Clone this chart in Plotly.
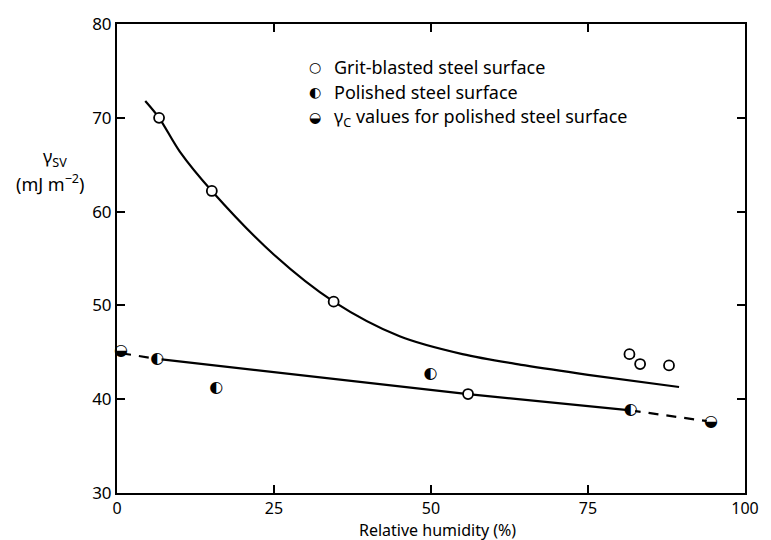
import plotly.graph_objects as go

# Grit-blasted steel surface (open circles)
grit_x = [6.7, 15.1, 34.5, 55.9, 81.6, 83.3, 87.9]
grit_y = [70.0, 62.2, 50.4, 40.55, 44.8, 43.75, 43.6]

# Polished steel surface (left half filled)
pol_x = [6.4, 15.8, 49.9, 81.8]
pol_y = [44.3, 41.2, 42.7, 38.8]

# gamma_c values for polished steel surface (bottom half filled)
gc_x = [0.65, 94.6]
gc_y = [45.1, 37.6]

# Fitted curve through grit-blasted data
curve_x = [4.5, 6.7, 10.0, 15.1, 25.0, 34.5, 45.0, 55.0, 65.0, 75.0, 89.5]
curve_y = [71.8, 70.0, 66.4, 62.2, 55.4, 50.4, 46.7, 44.8, 43.6, 42.6, 41.3]

# Line through polished data
line_solid_x = [6.4, 55.9, 81.8]
line_solid_y = [44.3, 40.55, 38.8]
line_dash_left_x = [0.65, 6.4]
line_dash_left_y = [44.9, 44.3]
line_dash_right_x = [81.8, 94.6]
line_dash_right_y = [38.8, 37.6]

x_ticks = [0, 25, 50, 75, 100]
y_ticks = [30, 40, 50, 60, 70, 80]

FONT = "Noto Sans"
SYM = "DejaVu Sans"

TOP, BOT = 21, 47
PH = 540 - TOP - BOT

fig = go.Figure()
fig.add_trace(go.Scatter(x=curve_x, y=curve_y, mode="lines",
                         line=dict(color="black", width=2.2, shape="spline", smoothing=0.9),
                         showlegend=False, hoverinfo="skip"))
fig.add_trace(go.Scatter(x=line_solid_x, y=line_solid_y, mode="lines",
                         line=dict(color="black", width=2.2),
                         showlegend=False, hoverinfo="skip"))
for lx, ly in [(line_dash_left_x, line_dash_left_y), (line_dash_right_x, line_dash_right_y)]:
    fig.add_trace(go.Scatter(x=lx, y=ly, mode="lines",
                             line=dict(color="black", width=2.2, dash="10px,8px"),
                             showlegend=False, hoverinfo="skip"))

fig.add_trace(go.Scatter(x=grit_x, y=grit_y, mode="markers",
                         marker=dict(symbol="circle", size=10, color="white",
                                     line=dict(color="black", width=1.8)),
                         name="Grit-blasted steel surface", showlegend=False))
fig.add_trace(go.Scatter(x=pol_x, y=pol_y, mode="markers+text", text=["◐"] * len(pol_x),
                         textposition="middle center",
                         marker=dict(symbol="circle", size=9, color="white"),
                         textfont=dict(family=SYM, size=16, color="black"),
                         name="Polished steel surface", showlegend=False))
fig.add_trace(go.Scatter(x=gc_x, y=gc_y, mode="markers+text", text=["◒"] * len(gc_x),
                         textposition="middle center",
                         marker=dict(symbol="circle", size=9, color="white"),
                         textfont=dict(family=SYM, size=16, color="black"),
                         name="γc values", showlegend=False, cliponaxis=False))

axis_common = dict(showline=True, linecolor="black", linewidth=2, mirror="ticks",
                   ticks="inside", ticklen=8, tickwidth=1.5, tickcolor="black",
                   showgrid=False, zeroline=False,
                   tickfont=dict(family=FONT, size=17, color="black"))
fig.update_xaxes(range=[0, 100], tickvals=x_ticks, ticktext=[str(v) for v in x_ticks],
                 **axis_common)
fig.update_xaxes(tickfont=dict(family=FONT, size=16, color="black"))
fig.update_yaxes(range=[30, 80], tickvals=y_ticks, ticktext=[str(v) for v in y_ticks],
                 **axis_common)

def py(pix):
    return (540 - BOT - pix) / PH

annotations = [
    dict(text="Relative humidity (%)", xref="paper", yref="paper", x=0.51, y=py(530),
         xanchor="center", yanchor="middle", showarrow=False,
         font=dict(family=FONT, size=16, color="black")),
    dict(text="γ<sub>SV</sub>", xref="paper", yref="paper", x=-0.098, y=py(155),
         xanchor="center", yanchor="middle", showarrow=False,
         font=dict(family=FONT, size=18, color="black")),
    dict(text="(mJ m<sup>−2</sup>)", xref="paper", yref="paper", x=-0.107, y=py(181),
         xanchor="center", yanchor="middle", showarrow=False,
         font=dict(family=FONT, size=18, color="black")),
]
legend_items = [("○", "Grit-blasted steel surface"),
                ("◐", "Polished steel surface"),
                ("◒", "γ<sub>C</sub> values for polished steel surface")]
for i, (sym, label) in enumerate(legend_items):
    ypix = 64 + i * 25 + (1 if i == 2 else 0)
    annotations.append(dict(text=sym, xref="paper", yref="paper", x=(318 - 117.5) / 634.5, y=py(ypix),
                            xanchor="center", yanchor="middle", showarrow=False,
                            font=dict(family=SYM, size=14, color="black")))
    annotations.append(dict(text=label, xref="paper", yref="paper", x=(335 - 117.5) / 634.5, y=py(ypix),
                            xanchor="left", yanchor="middle", showarrow=False,
                            font=dict(family=FONT, size=18, color="black")))

fig.update_layout(width=771, height=540, margin=dict(l=117, r=19, t=TOP, b=BOT),
                  paper_bgcolor="white", plot_bgcolor="white",
                  annotations=annotations, showlegend=False)

fig.write_html("out.html")
